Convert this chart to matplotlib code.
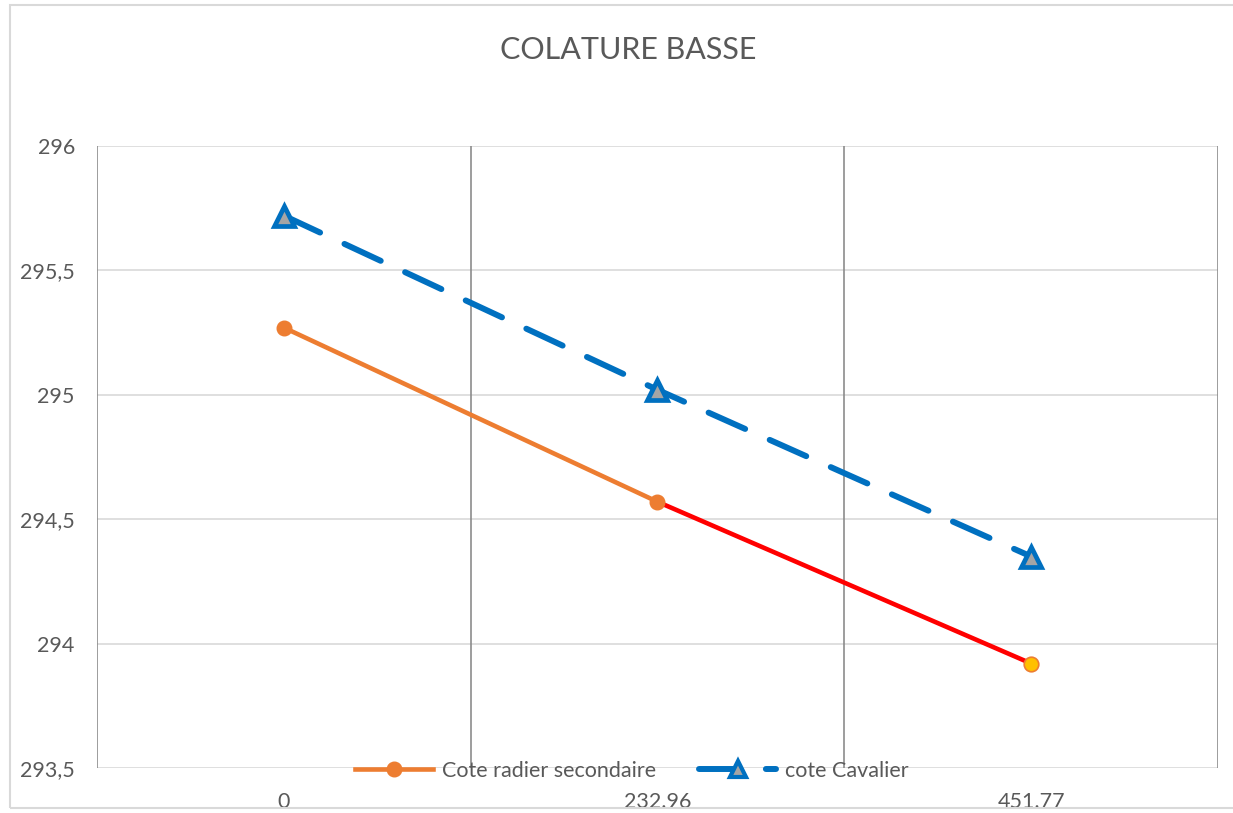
import matplotlib
matplotlib.use("Agg")
import matplotlib.pyplot as plt
from matplotlib.lines import Line2D
from matplotlib.patches import Rectangle
from matplotlib.ticker import FuncFormatter

categories = ["0", "232.96", "451.77"]
cote_radier = [295.27, 294.57, 293.92]
cote_cavalier = [295.72, 295.02, 294.35]
yticks = [293.5, 294, 294.5, 295, 295.5, 296]
title = "COLATURE BASSE"

plt.rcParams['font.family'] = ['Lato', 'DejaVu Sans']
txt = '#595959'
orange = '#ED7D31'
blue = '#0070C0'

fig = plt.figure(figsize=(12.33, 8.13), dpi=100)
ax = fig.add_axes([97/1233, 1-768/813, (1218-97)/1233, (768-146)/813])

x = list(range(len(categories)))

for yv in yticks:
    ax.axhline(yv, color='#d9d9d9', lw=1.2, zorder=0)
for xv in [-0.5, 0.5, 1.5, 2.5]:
    ax.axvline(xv, color='#8c8c8c', lw=1.2, zorder=0)

ax.plot(x[:2], cote_radier[:2], color=orange, lw=3.3, solid_capstyle='round', zorder=3)
ax.plot(x[1:], cote_radier[1:], color='#FF0000', lw=3.3, solid_capstyle='round', zorder=3)
ax.plot(x[:2], cote_radier[:2], ls='none', marker='o', ms=10.5, mfc=orange, mec=orange, zorder=4)
ax.plot(x[2:], cote_radier[2:], ls='none', marker='o', ms=10.5, mfc='#FFC000', mec=orange, mew=1.2, zorder=4)

ax.plot(x, cote_cavalier, color=blue, lw=4.3, dashes=(6.7, 4.5), dash_capstyle='round', zorder=3)
ax.plot(x, cote_cavalier, ls='none', marker='^', ms=14, mfc='#A5A5A5', mec=blue, mew=3.4, zorder=4)

ax.set_xlim(-0.5, 2.5)
ax.set_ylim(293.5, 296)
ax.set_yticks(yticks)
ax.yaxis.set_major_formatter(FuncFormatter(lambda v, p: ('%g' % v).replace('.', ',')))
ax.set_xticks(x)
ax.set_xticklabels(categories)
ax.tick_params(axis='both', length=0, labelsize=15.5, labelcolor=txt)
ax.tick_params(axis='y', pad=16)
ax.tick_params(axis='x', pad=17)
for s in ax.spines.values():
    s.set_visible(False)

fig.text(628/1233, 1-50/813, title, ha='center', va='center', fontsize=22, color=txt)

h1 = Line2D([], [], color=orange, lw=3.3, marker='o', ms=10.5, mfc=orange, mec=orange)
h2 = Line2D([], [], color=blue, lw=4.3, dashes=(6.7, 4.5), dash_capstyle='round',
            marker='^', ms=11, mfc='#A5A5A5', mec=blue, mew=3, markevery=[1])
leg = fig.legend([h1, h2], ["Cote radier secondaire", "cote Cavalier"],
                 loc='center', bbox_to_anchor=(632/1233, 1-771/813), ncol=2, frameon=False,
                 fontsize=15.5, labelcolor=txt, handlelength=3.6, handletextpad=0.4,
                 columnspacing=2.0, borderpad=0.1)

fig.add_artist(Rectangle((10/1233, 1-808/813), 1.2, (808-5)/813, transform=fig.transFigure,
                         fill=False, edgecolor='#d9d9d9', lw=1.5))

fig.savefig('out.png', dpi=100)
